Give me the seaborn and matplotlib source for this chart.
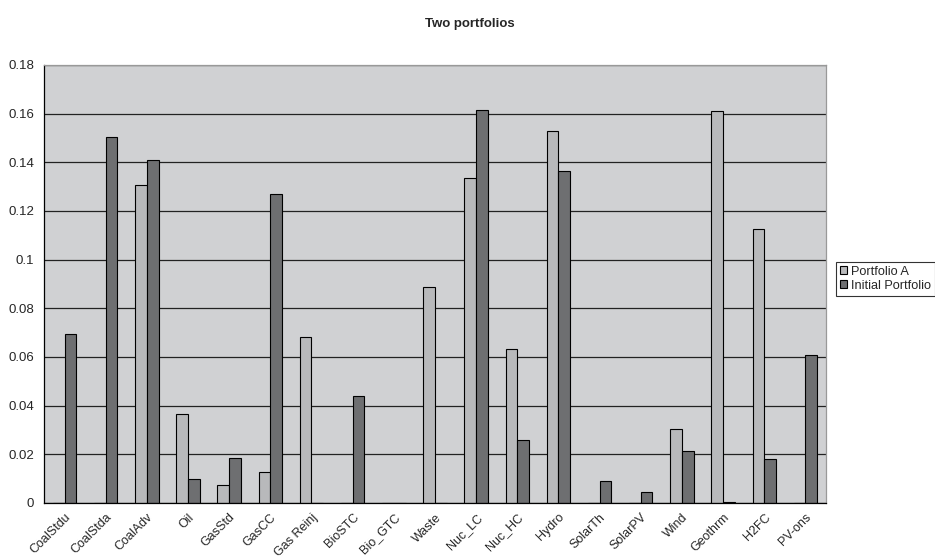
import numpy as np
import pandas as pd
import matplotlib
matplotlib.use("Agg")
import matplotlib.pyplot as plt
import seaborn as sns
from matplotlib.ticker import FuncFormatter, FixedLocator

sns.set_style("white")
plt.rcParams['font.family'] = ['Liberation Sans', 'DejaVu Sans']

# data
techs = ["CoalStdu", "CoalStda", "CoalAdv", "Oil", "GasStd", "GasCC", "Gas Reinj",
         "BioSTC", "Bio_GTC", "Waste", "Nuc_LC", "Nuc_HC", "Hydro", "SolarTh",
         "SolarPV", "Wind", "Geothrm", "H2FC", "PV-ons"]
portfolio_a = [0.0, 0.0, 0.1306, 0.0366, 0.0075, 0.0127, 0.0683, 0.0, 0.0, 0.0888,
               0.1337, 0.0632, 0.1528, 0.0, 0.0, 0.0305, 0.1610, 0.1126, 0.0]
initial = [0.0693, 0.1503, 0.1408, 0.0097, 0.0185, 0.1271, 0.0, 0.0441, 0.0, 0.0,
           0.1615, 0.0259, 0.1366, 0.0089, 0.0045, 0.0215, 0.0003, 0.0180, 0.0608]
series_names = ["Portfolio A", "Initial Portfolio"]
yticks = [0, 0.02, 0.04, 0.06, 0.08, 0.1, 0.12, 0.14, 0.16, 0.18]

df = pd.DataFrame({
    "tech": techs * 2,
    "share": portfolio_a + initial,
    "series": [series_names[0]] * len(techs) + [series_names[1]] * len(techs),
})

fig = plt.figure(figsize=(9.35, 5.6), dpi=100)
ax = fig.add_axes([0.047, 0.1018, 0.8364, 0.7822])
ax.set_facecolor("#D0D1D3")

sns.barplot(data=df, x="tech", y="share", hue="series", order=techs,
            hue_order=series_names, palette=["#B8B9BB", "#6E6F71"],
            width=0.57, edgecolor="black", linewidth=0.8, ax=ax, legend=True)

ax.set_ylim(0, 0.18)
ax.set_xlim(-0.5, len(techs) - 0.5)
ax.set_yticks(yticks)
ax.yaxis.set_major_formatter(FuncFormatter(lambda v, p: "%g" % round(v, 2)))
ax.grid(axis="y", color="#222222", linewidth=0.9)
ax.set_axisbelow(True)
ax.set_xlabel("")
ax.set_ylabel("")

# category labels centered, tick marks on the boundaries (Excel style)
ax.set_xticks(range(len(techs)))
ax.set_xticklabels(techs, rotation=45, ha="right", rotation_mode="anchor", fontsize=9)
ax.tick_params(axis="x", which="major", length=0, pad=6)
ax.xaxis.set_minor_locator(FixedLocator(np.arange(-0.5, len(techs), 1.0)))
ax.tick_params(axis="x", which="minor", length=4, width=0.8, color="black", direction="out")
ax.tick_params(axis="y", length=4, width=0.8, color="black", direction="out", labelsize=9.5, pad=3)

for side in ["left", "bottom"]:
    ax.spines[side].set_color("black")
    ax.spines[side].set_linewidth(0.9)
for side in ["top", "right"]:
    ax.spines[side].set_color("#999999")
    ax.spines[side].set_linewidth(0.9)

leg = ax.legend(loc="upper left", bbox_to_anchor=(0.894, 0.532), bbox_transform=fig.transFigure,
                frameon=True, fancybox=False, edgecolor="black", fontsize=9.2,
                handlelength=0.6, handleheight=0.6, handletextpad=0.3,
                borderpad=0.3, labelspacing=0.15, borderaxespad=0)
leg.get_frame().set_linewidth(0.8)

fig.suptitle("Two portfolios", x=0.503, y=0.967, fontsize=9.5, fontweight="bold")

fig.savefig("out.png", dpi=100)
